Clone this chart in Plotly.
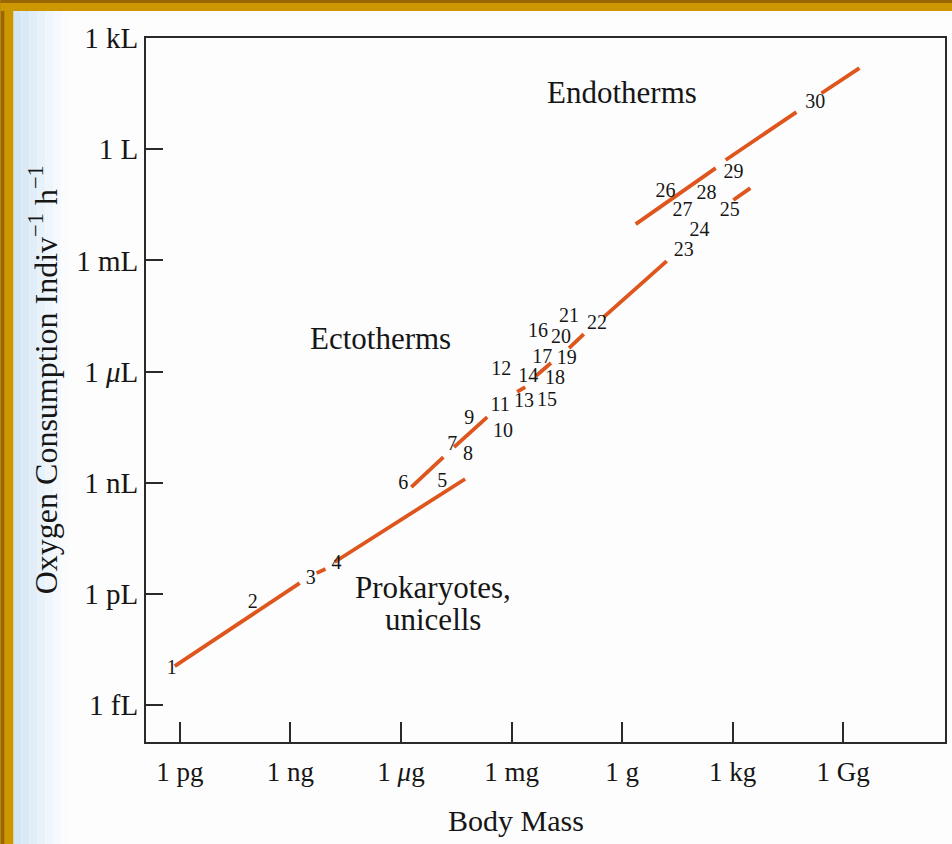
import plotly.graph_objects as go

# ---------------- data (log10 units: body mass in g, O2 consumption in L/h) -------------
seg_mass_start = [-12.14, -8.29, -7.80, -5.72, -4.56, -2.85, -2.34, -1.44, -0.50, 0.37, 3.02, 2.81, 5.41]
seg_mass_end   = [-8.75, -8.05, -4.26, -4.85, -3.66, -2.63, -1.93, -1.04, 1.21, 2.54, 3.48, 4.73, 6.44]
seg_o2_start   = [-13.95, -11.44, -11.14, -9.12, -8.04, -6.55, -6.12, -5.37, -4.53, -2.02, -1.37, -0.29, 1.51]
seg_o2_end     = [-11.71, -11.33, -8.90, -8.31, -7.23, -6.42, -5.77, -4.99, -3.02, -0.51, -1.05, 1.00, 2.19]

group_ids = [str(i) for i in range(1, 31)]
group_mass = [-12.22, -10.02, -8.45, -7.75, -4.88, -5.94, -4.61, -4.18, -4.15, -3.23,
              -3.31, -3.28, -2.66, -2.55, -2.04, -2.28, -2.17, -1.82, -1.50, -1.66,
              -1.44, -0.68, 1.67, 2.10, 2.92, 1.18, 1.64, 2.29, 3.02, 5.24]
group_o2 = [-14.03, -12.25, -11.60, -11.20, -8.98, -9.04, -7.98, -8.25, -7.28, -7.63,
            -6.93, -5.96, -6.82, -6.15, -6.80, -4.94, -5.64, -6.20, -5.66, -5.10,
            -4.53, -4.72, -2.75, -2.21, -1.67, -1.16, -1.67, -1.21, -0.64, 1.24]

x_tick_vals = [-12, -9, -6, -3, 0, 3, 6]
x_tick_text = ["1 pg", "1 ng", "1 <i>μ</i>g", "1 mg", "1 g", "1 kg", "1 Gg"]
y_tick_vals = [-15, -12, -9, -6, -3, 0, 3]
y_tick_text = ["1 fL", "1 pL", "1 nL", "1 <i>μ</i>L", "1 mL", "1 L", "1 kL"]

class_labels = ["Endotherms", "Ectotherms", "Prokaryotes,", "unicells"]
class_mass = [-0.01, -6.56, -5.12, -5.12]
class_o2 = [1.54, -5.10, -11.84, -12.68]

# ---------------- figure -------------------------------------------------------------
FONT = "Liberation Serif, Times New Roman, serif"
INK = "#161616"
LINE = "#de561e"

xs, ys = [], []
for a, b, c, d in zip(seg_mass_start, seg_mass_end, seg_o2_start, seg_o2_end):
    xs += [10 ** a, 10 ** b, None]
    ys += [10 ** c, 10 ** d, None]

fig = go.Figure()
fig.add_trace(go.Scatter(x=xs, y=ys, mode="lines",
                         line=dict(color=LINE, width=3.8),
                         connectgaps=False, hoverinfo="skip", showlegend=False))
fig.add_trace(go.Scatter(x=[10 ** v for v in group_mass], y=[10 ** v for v in group_o2],
                         mode="text", text=group_ids, textposition="middle center",
                         textfont=dict(family=FONT, size=20, color=INK),
                         hoverinfo="skip", showlegend=False))

for t, mx, oy in zip(class_labels, class_mass, class_o2):
    fig.add_annotation(x=mx, y=oy, xref="x", yref="y", text=t, showarrow=False,
                       font=dict(family=FONT, size=31, color=INK),
                       xanchor="center", yanchor="middle")

# axis titles as annotations (positioned like the original)
fig.add_annotation(x=(517 - 146) / 801, y=(742 - 820) / 704, xref="paper", yref="paper",
                   text="Body Mass", showarrow=False,
                   font=dict(family=FONT, size=30, color=INK),
                   xanchor="center", yanchor="middle")
fig.add_annotation(x=(43 - 146) / 801, y=(742 - 380) / 704, xref="paper", yref="paper",
                   text="Oxygen Consumption Indiv<sup>−1</sup> h<sup>−1</sup>",
                   showarrow=False, textangle=-90,
                   font=dict(family=FONT, size=32, color=INK),
                   xanchor="center", yanchor="middle")

# page decoration: golden frame and bluish left margin of the scanned page
def px(x):
    return (x - 146) / 801

def py(y):
    return (742 - y) / 704

shapes = []
blues = ["#d4e5f4", "#dae9f6", "#e1edf8", "#e8f2fa", "#eff6fb", "#f5f9fd", "#fafcfe"]
x0 = 13
for i, c in enumerate(blues):
    x1 = x0 + 8
    shapes.append(dict(type="rect", xref="paper", yref="paper", x0=px(x0), x1=px(x1),
                       y0=py(850), y1=py(0), fillcolor=c, line=dict(width=0), layer="below"))
    x0 = x1
shapes += [
    dict(type="rect", xref="paper", yref="paper", x0=px(0), x1=px(13), y0=py(850), y1=py(0),
         fillcolor="#cc9700", line=dict(width=0), layer="above"),
    dict(type="rect", xref="paper", yref="paper", x0=px(0), x1=px(4), y0=py(850), y1=py(0),
         fillcolor="#9a6600", line=dict(width=0), layer="above"),
    dict(type="rect", xref="paper", yref="paper", x0=px(0), x1=px(960), y0=py(11), y1=py(-2),
         fillcolor="#cc9700", line=dict(width=0), layer="above"),
    dict(type="rect", xref="paper", yref="paper", x0=px(0), x1=px(960), y0=py(3), y1=py(-2),
         fillcolor="#9a6600", line=dict(width=0), layer="above"),
]

fig.update_layout(
    width=952, height=844,
    margin=dict(l=146, r=5, t=38, b=102),
    paper_bgcolor="#fdfdfd", plot_bgcolor="rgba(0,0,0,0)",
    showlegend=False, shapes=shapes,
    font=dict(family=FONT, color=INK),
)
fig.update_xaxes(type="log", range=[-12.92, 8.763], tickmode="array",
                 tickvals=[10 ** v for v in x_tick_vals], ticktext=x_tick_text,
                 ticks="inside", ticklen=20, tickwidth=2, tickcolor="#2a2a2a",
                 showline=True, linewidth=2, linecolor="#2a2a2a", mirror=True,
                 showgrid=False, zeroline=False,
                 tickfont=dict(family=FONT, size=27, color=INK), ticklabelstandoff=5)
fig.update_yaxes(type="log", range=[-15.998, 3.002], tickmode="array",
                 tickvals=[10 ** v for v in y_tick_vals], ticktext=y_tick_text,
                 ticks="inside", ticklen=17, tickwidth=2, tickcolor="#2a2a2a",
                 showline=True, linewidth=2, linecolor="#2a2a2a", mirror=True,
                 showgrid=False, zeroline=False,
                 tickfont=dict(family=FONT, size=29, color=INK), ticklabelstandoff=0)

fig.write_html("out.html", config={"displayModeBar": False},
               post_script="document.body.style.margin='0';document.body.style.padding='0';")
